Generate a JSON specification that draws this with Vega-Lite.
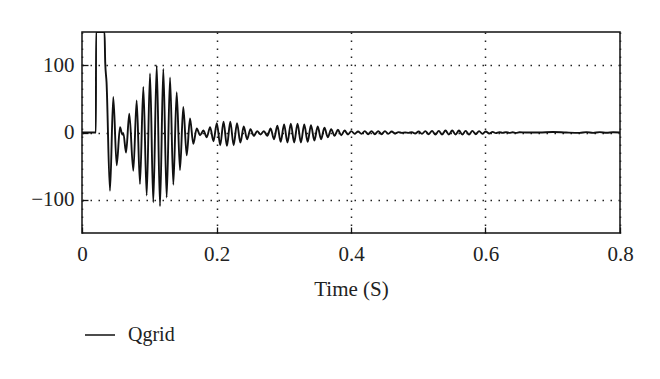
{
  "$schema": "https://vega.github.io/schema/vega-lite/v6.json",
  "width": 538,
  "height": 201,
  "autosize": {"type": "none"},
  "padding": {"left": 82, "top": 32, "right": 40, "bottom": 146},
  "background": "white",
  "config": {
    "view": {"stroke": "#111", "strokeWidth": 1.5},
    "font": "Liberation Serif"
  },
  "data": {
    "values": [
      {"t": 0, "q": 0}, {"t": 0.0207, "q": 0}, {"t": 0.0209, "q": 150}, {"t": 0.0335, "q": 150},
      {"t": 0.0345, "q": 105}, {"t": 0.0365, "q": 75}, {"t": 0.0416, "q": -87}, {"t": 0.0465, "q": 53},
      {"t": 0.0516, "q": -49}, {"t": 0.0565, "q": 8}, {"t": 0.06, "q": -3}, {"t": 0.0615, "q": -1},
      {"t": 0.0655, "q": -30}, {"t": 0.0703, "q": 28}, {"t": 0.0763, "q": -57}, {"t": 0.0813, "q": 48},
      {"t": 0.0862, "q": -77}, {"t": 0.0912, "q": 68}, {"t": 0.0962, "q": -94}, {"t": 0.1011, "q": 88},
      {"t": 0.106, "q": -104}, {"t": 0.1111, "q": 100}, {"t": 0.116, "q": -110}, {"t": 0.1209, "q": 95},
      {"t": 0.1259, "q": -97}, {"t": 0.1309, "q": 82}, {"t": 0.1358, "q": -78}, {"t": 0.1408, "q": 60},
      {"t": 0.1457, "q": -56}, {"t": 0.1506, "q": 38}, {"t": 0.1557, "q": -34}, {"t": 0.1606, "q": 21},
      {"t": 0.1655, "q": -17}, {"t": 0.1706, "q": 6}, {"t": 0.1755, "q": -4}, {"t": 0.1805, "q": 3},
      {"t": 0.1855, "q": -7}, {"t": 0.1905, "q": 8}, {"t": 0.1955, "q": -13}, {"t": 0.2005, "q": 14},
      {"t": 0.2055, "q": -19}, {"t": 0.2105, "q": 16}, {"t": 0.2155, "q": -20}, {"t": 0.2205, "q": 16},
      {"t": 0.2255, "q": -19}, {"t": 0.2305, "q": 14}, {"t": 0.2355, "q": -15}, {"t": 0.2405, "q": 9},
      {"t": 0.2455, "q": -10}, {"t": 0.2505, "q": 5}, {"t": 0.2555, "q": -5}, {"t": 0.2605, "q": 2},
      {"t": 0.2655, "q": -3}, {"t": 0.2705, "q": 2}, {"t": 0.2755, "q": -5}, {"t": 0.2805, "q": 6},
      {"t": 0.2855, "q": -10}, {"t": 0.2905, "q": 10}, {"t": 0.2955, "q": -14}, {"t": 0.3005, "q": 12},
      {"t": 0.3055, "q": -15}, {"t": 0.3105, "q": 13}, {"t": 0.3155, "q": -15}, {"t": 0.3205, "q": 13},
      {"t": 0.3255, "q": -15}, {"t": 0.3305, "q": 12}, {"t": 0.3355, "q": -14}, {"t": 0.3405, "q": 11},
      {"t": 0.3455, "q": -12}, {"t": 0.3505, "q": 9}, {"t": 0.3555, "q": -10}, {"t": 0.3605, "q": 7},
      {"t": 0.3655, "q": -7}, {"t": 0.3705, "q": 5}, {"t": 0.3755, "q": -5}, {"t": 0.3805, "q": 4},
      {"t": 0.3855, "q": -4}, {"t": 0.3905, "q": 3}, {"t": 0.3955, "q": -3}, {"t": 0.4005, "q": 2},
      {"t": 0.4055, "q": -2}, {"t": 0.4105, "q": 1.5}, {"t": 0.4155, "q": -2}, {"t": 0.4205, "q": 2},
      {"t": 0.4255, "q": -2.5}, {"t": 0.4305, "q": 2}, {"t": 0.4355, "q": -2.5}, {"t": 0.4405, "q": 2},
      {"t": 0.4455, "q": -2.5}, {"t": 0.4505, "q": 2}, {"t": 0.4555, "q": -2}, {"t": 0.4605, "q": 1.5},
      {"t": 0.4655, "q": -1.5}, {"t": 0.4705, "q": 0.5}, {"t": 0.4755, "q": -0.5}, {"t": 0.4805, "q": 0},
      {"t": 0.4855, "q": -0.5}, {"t": 0.4905, "q": 0.5}, {"t": 0.4955, "q": -1.5}, {"t": 0.5005, "q": 1.5},
      {"t": 0.5055, "q": -2}, {"t": 0.5105, "q": 2}, {"t": 0.5155, "q": -2.5}, {"t": 0.5205, "q": 2.5},
      {"t": 0.5255, "q": -3}, {"t": 0.5305, "q": 2.5}, {"t": 0.5355, "q": -3}, {"t": 0.5405, "q": 3},
      {"t": 0.5455, "q": -3}, {"t": 0.5505, "q": 3}, {"t": 0.5555, "q": -3}, {"t": 0.5605, "q": 3},
      {"t": 0.5655, "q": -3}, {"t": 0.5705, "q": 2.5}, {"t": 0.5755, "q": -3}, {"t": 0.5805, "q": 2.5},
      {"t": 0.5855, "q": -2.5}, {"t": 0.5905, "q": 2}, {"t": 0.5955, "q": -2}, {"t": 0.6005, "q": 1.5},
      {"t": 0.6055, "q": -1.5}, {"t": 0.6105, "q": 1}, {"t": 0.6155, "q": -1}, {"t": 0.6205, "q": 0.5},
      {"t": 0.6255, "q": -0.5}, {"t": 0.6305, "q": 0.5}, {"t": 0.6355, "q": -0.5}, {"t": 0.6405, "q": 0.3},
      {"t": 0.6455, "q": -0.5}, {"t": 0.6505, "q": 0.3}, {"t": 0.66, "q": 0}, {"t": 0.68, "q": 0},
      {"t": 0.7, "q": 0.8}, {"t": 0.72, "q": 0}, {"t": 0.74, "q": -0.5}, {"t": 0.75, "q": 0.5},
      {"t": 0.76, "q": -0.5}, {"t": 0.77, "q": 0.5}, {"t": 0.78, "q": -0.3}, {"t": 0.79, "q": 0.3},
      {"t": 0.8, "q": 0}
    ]
  },
  "mark": {"type": "line", "interpolate": "monotone", "strokeWidth": 1.9, "clip": true},
  "encoding": {
    "x": {
      "field": "t", "type": "quantitative",
      "scale": {"domain": [0, 0.8], "nice": false, "zero": false},
      "axis": {
        "values": [0, 0.2, 0.4, 0.6, 0.8],
        "labelExpr": "datum.value == 0 ? '0' : format(datum.value, '.1f')",
        "title": "Time (S)",
        "domain": false,
        "tickSize": -6, "tickColor": "#111", "tickWidth": 1.3,
        "labelPadding": 16, "labelFontSize": 21, "labelColor": "#222", "labelFont": "Liberation Serif",
        "labelFlush": false,
        "titleFont": "Liberation Serif", "titleFontSize": 21, "titleFontWeight": "normal", "titleColor": "#222",
        "titlePadding": 14,
        "grid": true, "gridDash": [1.5, 6.5], "gridColor": "#222", "gridWidth": 1.5, "gridOpacity": 1
      }
    },
    "y": {
      "field": "q", "type": "quantitative",
      "scale": {"domain": [-150, 150], "nice": false},
      "axis": {
        "values": [-100, 0, 100],
        "title": null,
        "domain": false,
        "tickSize": -6, "tickColor": "#111", "tickWidth": 1.3,
        "labelPadding": 14, "labelFontSize": 21, "labelColor": "#222", "labelFont": "Liberation Serif",
        "grid": true, "gridDash": [1.5, 6.5], "gridColor": "#222", "gridWidth": 1.5, "gridOpacity": 1
      }
    },
    "color": {
      "datum": "Qgrid",
      "scale": {"range": ["#111"]},
      "legend": {
        "title": null,
        "orient": "none",
        "legendX": 2,
        "legendY": 287,
        "symbolType": "stroke",
        "symbolSize": 900,
        "symbolStrokeWidth": 1.5,
        "labelFont": "Liberation Serif",
        "labelFontSize": 20,
        "labelColor": "#222",
        "labelOffset": 12
      }
    }
  }
}
